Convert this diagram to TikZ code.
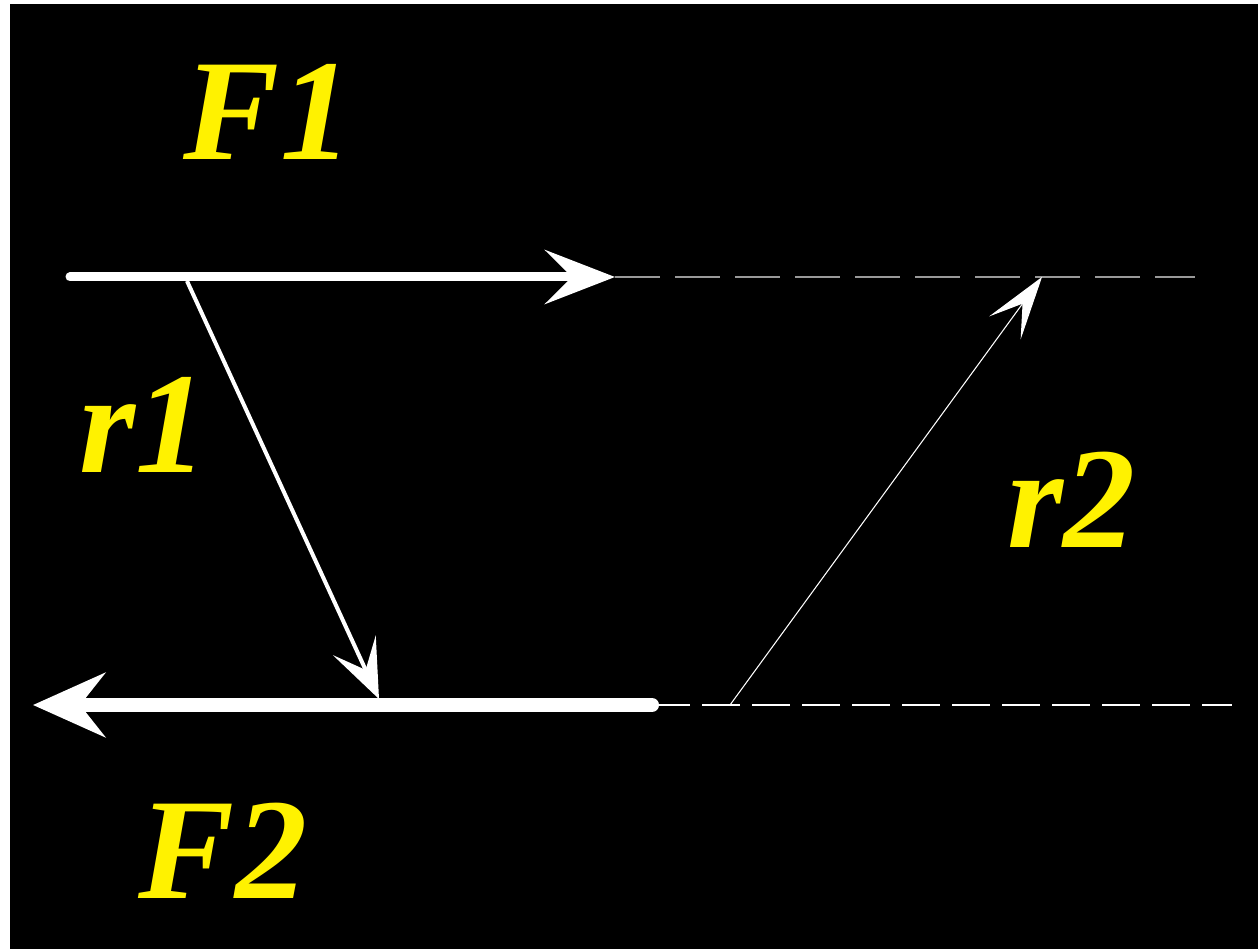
\documentclass[tikz,border=0pt]{standalone}
\usepackage{fontspec}
\setmainfont{Liberation Serif}
\usetikzlibrary{arrows.meta}
\definecolor{dashgray}{gray}{0.6}

\begin{document}
\begin{tikzpicture}[
		lab/.style={text=yellow, font=\fontsize{41}{41}\selectfont\bfseries\itshape, inner sep=0pt, anchor=base},
		force/.style={draw=white, line cap=round},
		ray/.style={draw=white},
		guide/.style={dash pattern=on 4.5mm off 1.5mm}
		]
		\useasboundingbox (0,0) rectangle (12.58,9.49);
		\fill[black] (0.10,0) rectangle (12.58,9.45);
		\coordinate (a1) at (0.70,6.72);
		\coordinate (b1) at (6.15,6.72);
		\coordinate (e1) at (11.95,6.72);
		\coordinate (p1) at (1.87,6.68);
		\coordinate (q1) at (3.79,2.50);
		\coordinate (a2) at (6.52,2.44);
		\coordinate (b2) at (0.33,2.44);
		\coordinate (e2) at (12.32,2.44);
		\coordinate (p2) at (7.30,2.44);
		\coordinate (q2) at (10.42,6.72);
		\node[lab] (f1lab) at (2.68,7.89) {F1};
		\node[lab] (r1lab) at (1.44,4.77) {r1};
		\node[lab] (r2lab) at (10.72,4.01) {r2};
		\node[lab] (f2lab) at (2.23,0.51) {F2};
		\draw[dashgray, line width=0.6pt, guide] (b1)--(e1);
		\draw[white, line width=0.45pt, dash pattern=on 3.8mm off 1.2mm] (a2)--(e2);
		\draw[force, line width=0.09cm, -{Stealth[length=7mm, width=5.4mm, inset=2.7mm]}] (a1)--(b1);
		\draw[force, line width=0.14cm, -{Stealth[length=7.2mm, width=6.4mm, inset=2.5mm]}] (a2)--(b2);
		\draw[ray, line width=0.04cm, -{Stealth[length=5.9mm, width=4.7mm, inset=2.7mm]}] (p1)--(q1);
		\draw[ray, line width=0.3pt, -{Stealth[length=6.3mm, width=3.9mm, inset=3mm]}] (p2)--(q2);
	\end{tikzpicture}
\end{document}
